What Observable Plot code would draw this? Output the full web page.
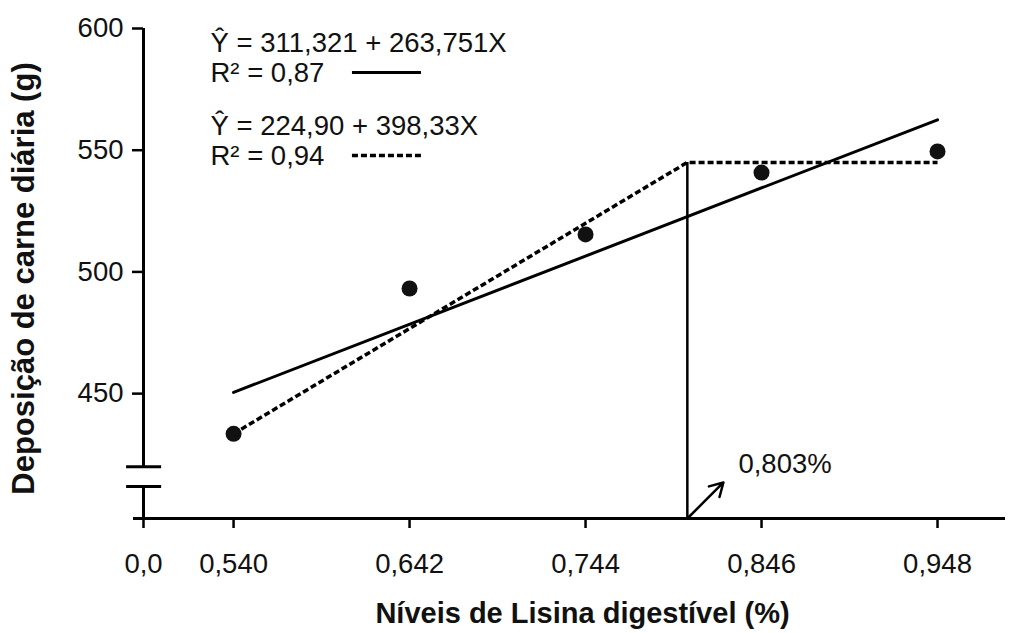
<!DOCTYPE html>
<html>
<head>
<meta charset="utf-8">
<script src="https://cdn.jsdelivr.net/npm/d3@7"></script>
<script src="https://cdn.jsdelivr.net/npm/@observablehq/plot@0.6"></script>
<style>
  body { margin: 0; background: #fff; }
  svg { font-family: "Liberation Sans", Arial, sans-serif; }
</style>
</head>
<body>
<div id="chart"></div>
<script>
// Observed means
const lysineLevels = [0.540, 0.642, 0.744, 0.846, 0.948];
const meatDeposition = [433.5, 493.2, 515.4, 540.8, 549.5];

// Linear regression line (endpoints as drawn)
const linearX = [0.540, 0.948];
const linearY = [450.5, 562.5];

// Linear-plateau (broken line) model as drawn
const plateauX = [0.540, 0.803, 0.948];
const plateauY = [433.5, 545.0, 545.0];

// Break point
const breakPoint = 0.803;
const breakLabel = "0,803%";

// Axis ticks
const xTickValues = [0.4878, 0.540, 0.642, 0.744, 0.846, 0.948];
const xTickLabels = ["0,0", "0,540", "0,642", "0,744", "0,846", "0,948"];
const yTickValues = [450, 500, 550, 600];
const yTickLabels = ["450", "500", "550", "600"];

const xTitle = "Níveis de Lisina digestível (%)";
const yTitle = "Deposição de carne diária (g)";
const eq1 = "Ŷ = 311,321 + 263,751X";
const r1 = "R² = 0,87";
const eq2 = "Ŷ = 224,90 + 398,33X";
const r2 = "R² = 0,94";

const points = lysineLevels.map((x, i) => ({x, y: meatDeposition[i]}));
const linear = linearX.map((x, i) => ({x, y: linearY[i]}));
const plateau = plateauX.map((x, i) => ({x, y: plateauY[i]}));

const xMin = 0.4878, xMax = 0.9874, yMin = 398.7, yMax = 600;
const font = 27.5;
const ink = "#111";

const chart = Plot.plot({
  width: 1011,
  height: 633,
  marginLeft: 143,
  marginRight: 6,
  marginTop: 28,
  marginBottom: 115,
  style: {fontFamily: "'Liberation Sans', Arial, sans-serif", background: "#fff", color: "#000"},
  x: {domain: [xMin, xMax], axis: null},
  y: {domain: [yMin, yMax], axis: null},
  marks: [
    // x axis line
    Plot.ruleY([yMin], {x1: 0.482, x2: xMax, stroke: "#000", strokeWidth: 3}),
    Plot.axisX({ticks: xTickValues, tickFormat: (d) => xTickLabels[xTickValues.indexOf(d)], tickSize: 10, tickPadding: 25, fontSize: font, stroke: "#000", strokeWidth: 2.5, fill: ink, label: null}),
    // y axis (broken)
    Plot.ruleX([{y1: 420, y2: yMax}, {y1: yMin, y2: 411.8}], {x: xMin, y1: "y1", y2: "y2", stroke: "#000", strokeWidth: 3}),
    Plot.ruleY([420, 411.8], {x1: 0.478, x2: 0.4983, stroke: "#000", strokeWidth: 3}),
    Plot.axisY({ticks: yTickValues, tickFormat: (d) => yTickLabels[yTickValues.indexOf(d)], tickSize: 11, tickPadding: 9, fontSize: font, stroke: "#000", strokeWidth: 2.5, fill: ink, label: null}),
    // titles
    Plot.text([xTitle], {frameAnchor: "bottom", textAnchor: "middle", lineAnchor: "middle", dx: 8, dy: 95, fontSize: 29, fontWeight: "bold", fill: ink}),
    Plot.text([yTitle], {frameAnchor: "left", textAnchor: "middle", lineAnchor: "middle", dx: -119, dy: 5, rotate: -90, fontSize: 31, fontWeight: "bold", fill: ink}),
    // vertical break line
    Plot.ruleX([breakPoint], {y1: yMin, y2: 545.0, stroke: "#000", strokeWidth: 2.5}),
    // regression lines
    Plot.line(linear, {x: "x", y: "y", stroke: "#000", strokeWidth: 3}),
    Plot.line(plateau, {x: "x", y: "y", stroke: "#000", strokeWidth: 3.5, strokeDasharray: "6,3", strokeLinecap: "butt", strokeLinejoin: "miter"}),
    // points
    Plot.dot(points, {x: "x", y: "y", r: 8, fill: "#111", stroke: "none"}),
    // arrow + label
    Plot.arrow([{x1: breakPoint, y1: yMin, x2: 0.8239, y2: 413.5}], {x1: "x1", y1: "y1", x2: "x2", y2: "y2", stroke: "#000", strokeWidth: 2.5, headLength: 9}),
    Plot.text([breakLabel], {x: 0.8326, y: 420.9, textAnchor: "start", lineAnchor: "middle", fontSize: font, fill: ink}),
    // equation annotations
    Plot.text([eq1], {frameAnchor: "top-left", textAnchor: "start", lineAnchor: "middle", dx: 67, dy: 15, fontSize: font, fill: ink}),
    Plot.text([r1], {frameAnchor: "top-left", textAnchor: "start", lineAnchor: "middle", dx: 67, dy: 45, fontSize: font, fill: ink}),
    Plot.text([eq2], {frameAnchor: "top-left", textAnchor: "start", lineAnchor: "middle", dx: 67, dy: 98, fontSize: font, fill: ink}),
    Plot.text([r2], {frameAnchor: "top-left", textAnchor: "start", lineAnchor: "middle", dx: 67, dy: 128, fontSize: font, fill: ink}),
    // legend keys
    Plot.ruleY([581.9], {x1: 0.6089, x2: 0.6489, stroke: "#000", strokeWidth: 3}),
    Plot.ruleY([547.8], {x1: 0.6089, x2: 0.6489, stroke: "#000", strokeWidth: 3.5, strokeDasharray: "6,3", strokeLinecap: "butt"})
  ]
});
document.getElementById("chart").appendChild(chart);
</script>
</body>
</html>
